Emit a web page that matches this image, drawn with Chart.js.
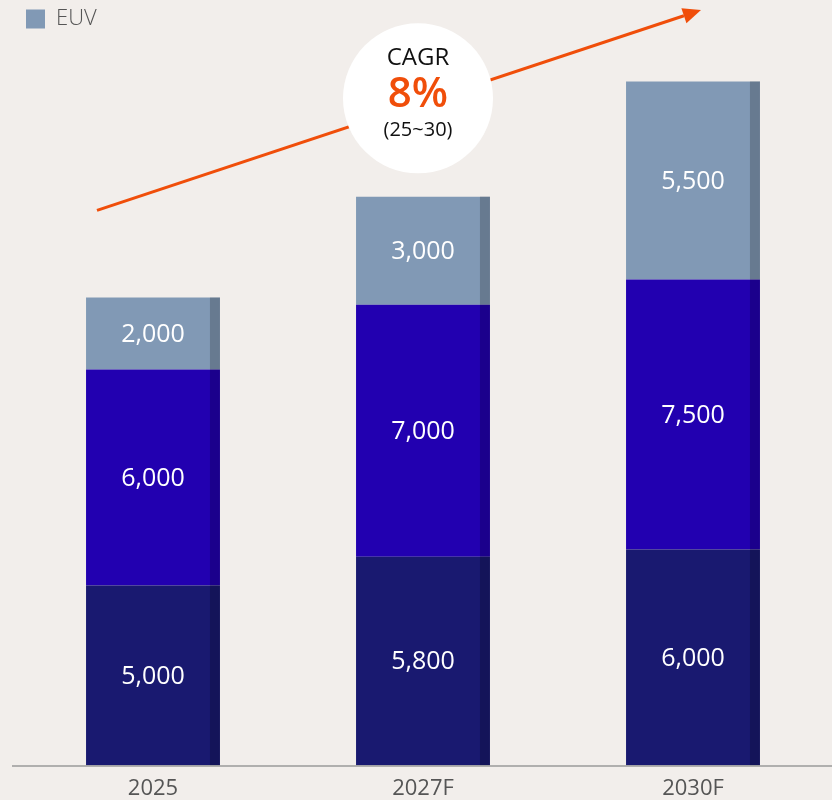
<!DOCTYPE html>
<html>
<head>
<meta charset="utf-8">
<script src="https://cdn.jsdelivr.net/npm/chart.js@4.4.1/dist/chart.umd.min.js"></script>
<style>
  html, body { margin: 0; padding: 0; background: #f2eeeb; }
  #wrap { width: 832px; height: 800px; }
</style>
</head>
<body>
<div id="wrap"><canvas id="c" width="832" height="800"></canvas></div>
<script>
const categories = ['2025', '2027F', '2030F'];
const bottomValues = [5000, 5800, 6000];
const middleValues = [6000, 7000, 7500];
const euvValues = [2000, 3000, 5500];
const seriesNames = ['Layer 1', 'Layer 2', 'EUV'];
const cagrText = ['CAGR', '8%', '(25~30)'];

const FONT = "'Open Sans', 'Noto Sans', sans-serif";

const bgPlugin = {
  id: 'bg',
  beforeDraw(chart) {
    const ctx = chart.ctx;
    ctx.save();
    ctx.fillStyle = '#f2eeeb';
    ctx.fillRect(0, 0, chart.width, chart.height);
    ctx.restore();
  }
};

const decoPlugin = {
  id: 'deco',
  afterDatasetsDraw(chart) {
    const ctx = chart.ctx;
    const area = chart.chartArea;
    const xs = chart.scales.x, ys = chart.scales.y;
    ctx.save();
    chart.data.datasets.forEach((ds, di) => {
      const meta = chart.getDatasetMeta(di);
      meta.data.forEach((el) => {
        const w = el.width;
        const right = el.x + w / 2;
        const top = Math.min(el.y, el.base), bot = Math.max(el.y, el.base);
        ctx.fillStyle = 'rgba(0,0,0,0.2)';
        ctx.fillRect(right - 10, top, 10, bot - top);
      });
    });
    chart.data.datasets.forEach((ds, di) => {
      const meta = chart.getDatasetMeta(di);
      meta.data.forEach((el, i) => {
        const v = ds.data[i];
        ctx.fillStyle = '#ffffff';
        ctx.font = '25px ' + FONT;
        ctx.textAlign = 'center';
        ctx.textBaseline = 'middle';
        ctx.fillText(v.toLocaleString('en-US'), el.x, (el.y + el.base) / 2 + 1);
      });
    });
    // axis line
    ctx.strokeStyle = '#9a9a9a';
    ctx.lineWidth = 1.5;
    ctx.beginPath();
    ctx.moveTo(12, area.bottom + 0.5);
    ctx.lineTo(chart.width, area.bottom + 0.5);
    ctx.stroke();

    // arrow
    const x0 = xs.getPixelForValue(0) - 56, y0 = ys.getPixelForValue(15420);
    const x1 = xs.getPixelForValue(2) + 8, y1 = ys.getPixelForValue(20980);
    const ang = Math.atan2(y1 - y0, x1 - x0);
    const headLen = 18, headW = 8;
    const bx = x1 - headLen * Math.cos(ang), by = y1 - headLen * Math.sin(ang);
    ctx.strokeStyle = '#f04e0a';
    ctx.fillStyle = '#f04e0a';
    ctx.lineWidth = 3;
    ctx.beginPath();
    ctx.moveTo(x0, y0);
    ctx.lineTo(bx, by);
    ctx.stroke();
    ctx.beginPath();
    ctx.moveTo(x1, y1);
    ctx.lineTo(bx + headW * Math.sin(ang), by - headW * Math.cos(ang));
    ctx.lineTo(bx - headW * Math.sin(ang), by + headW * Math.cos(ang));
    ctx.closePath();
    ctx.fill();

    // CAGR circle
    const cx = xs.getPixelForValue(1) - 5, cy = ys.getPixelForValue(18530);
    ctx.fillStyle = '#ffffff';
    ctx.beginPath();
    ctx.arc(cx, cy, 75, 0, Math.PI * 2);
    ctx.fill();
    ctx.textAlign = 'center';
    ctx.textBaseline = 'middle';
    ctx.fillStyle = '#111111';
    ctx.font = '24px ' + FONT;
    ctx.fillText(cagrText[0], cx, cy - 40);
    ctx.fillStyle = '#f04e0a';
    ctx.font = '600 42px ' + FONT;
    ctx.fillText(cagrText[1], cx, cy - 3);
    ctx.fillStyle = '#111111';
    ctx.font = '20px ' + FONT;
    ctx.fillText(cagrText[2], cx, cy + 32);
    ctx.restore();
  }
};

new Chart(document.getElementById('c'), {
  type: 'bar',
  data: {
    labels: categories,
    datasets: [
      { label: seriesNames[0], data: bottomValues, backgroundColor: '#191970', borderWidth: 0 },
      { label: seriesNames[1], data: middleValues, backgroundColor: '#2200b0', borderWidth: 0 },
      { label: seriesNames[2], data: euvValues, backgroundColor: '#8199b5', borderWidth: 0 }
    ]
  },
  options: {
    responsive: false,
    animation: false,
    devicePixelRatio: 1,
    layout: { padding: { left: 18, right: 4, top: 0, bottom: -12 } },
    datasets: { bar: { categoryPercentage: 1, barPercentage: 0.496 } },
    plugins: {
      tooltip: { enabled: false },
      legend: {
        display: true,
        position: 'top',
        align: 'start',
        labels: {
          boxWidth: 19,
          boxHeight: 19,
          padding: 8,
          color: '#555555',
          font: { family: FONT, size: 22, weight: '300' },
          filter: (item) => item.datasetIndex === 2
        }
      }
    },
    scales: {
      x: {
        stacked: true,
        grid: { display: false, drawTicks: false },
        border: { display: false },
        ticks: { color: '#555555', font: { family: FONT, size: 22 }, padding: 10 }
      },
      y: {
        stacked: true,
        display: false,
        min: 0,
        max: 20150
      }
    }
  },
  plugins: [bgPlugin, decoPlugin]
});
</script>
</body>
</html>
